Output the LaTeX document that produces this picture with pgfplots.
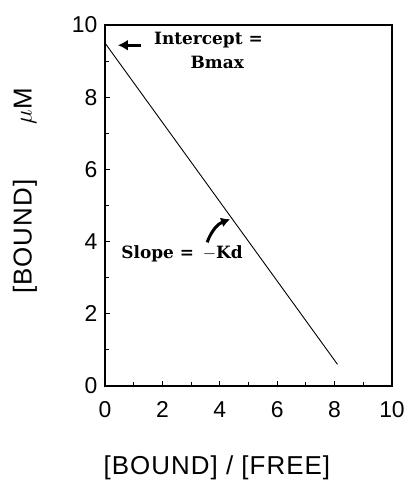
\documentclass[border=0pt]{standalone}
\usepackage{pgfplots}
\pgfplotsset{compat=1.18}
\usepackage{fontspec}
\setmainfont{Liberation Sans}
\newfontfamily\notefont{DejaVu Serif}
\usetikzlibrary{arrows.meta}

\begin{document}
\begin{tikzpicture}
\begin{axis}[
  scale only axis,
  width=287bp, height=361bp,
  xmin=0, xmax=10, ymin=0, ymax=10,
  xtick={0,2,...,10}, ytick={0,2,...,10},
  minor tick num=1,
  tick align=inside,
  tick pos=left,
  major tick length=5bp, minor tick length=4bp,
  every tick/.style={black, line width=1bp},
  axis line style={line width=1.6bp},
  /pgf/number format/assume math mode=true,
  tick label style={font=\fontsize{23}{23}\selectfont},
  xticklabel style={yshift=-12bp},
  yticklabel style={xshift=-4bp},
  xlabel={[BOUND] / [FREE]},
  xlabel style={font=\fontsize{26}{26}\selectfont\addfontfeatures{LetterSpace=4},
    at={(axis description cs:0.39,-0.227)}, anchor=center},
  ylabel={[BOUND]\hspace{55bp}$\mu$M},
  ylabel style={font=\fontsize{26}{26}\selectfont\addfontfeatures{LetterSpace=4},
    at={(axis description cs:-0.279,0.54)}, anchor=center},
]
% Scatchard line
\addplot[black, line width=0.9bp] coordinates {(0,9.5) (8.1,0.6)};

\draw[-{Latex[length=10bp,width=11bp]}, line width=3bp] (axis cs:1.25,9.44) -- (axis cs:0.45,9.44);
\node[anchor=west, font=\notefont\bfseries\fontsize{17}{19}\selectfont] at (axis cs:1.59,9.58) {Intercept =};
\node[font=\notefont\bfseries\fontsize{17}{19}\selectfont] at (axis cs:3.91,8.97) {Bmax};
\node[anchor=west, font=\notefont\bfseries\fontsize{17}{19}\selectfont] at (axis cs:0.45,3.65) {Slope =\, $-$Kd};
\draw[-{Latex[length=9bp,width=10bp]}, line width=3bp] (axis cs:3.56,3.98) to[bend left=25] (axis cs:4.36,4.62);
\end{axis}
\pgfresetboundingbox
\path[use as bounding box] ([shift={(-105bp,-96bp)}]current axis.south west)
  rectangle ([shift={(14bp,25bp)}]current axis.north east);
\end{tikzpicture}
\end{document}
